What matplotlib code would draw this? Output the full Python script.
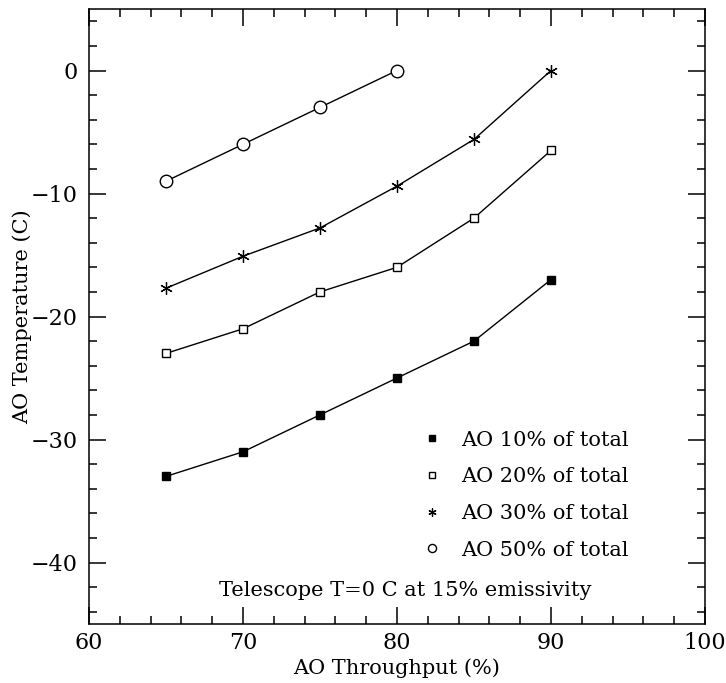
import matplotlib
matplotlib.use("Agg")
import matplotlib.pyplot as plt
from matplotlib.ticker import MultipleLocator

# Daten
throughput = [65, 70, 75, 80, 85, 90]
temp_10 = [-33, -31, -28, -25, -22, -17]
temp_20 = [-23, -21, -18, -16, -12, -6.5]
temp_30 = [-17.7, -15.1, -12.8, -9.4, -5.6, 0]
throughput_50 = [65, 70, 75, 80]
temp_50 = [-9, -6, -3, 0]

plt.rcParams['font.family'] = ['DejaVu Serif']

fig = plt.figure(figsize=(7.26, 6.83), dpi=100)
ax = fig.add_axes([89/726, 1 - 624/683, (705-89)/726, (624-9)/683])

ax.plot(throughput, temp_10, color='black', lw=1, marker='s', ms=6,
        mfc='black', mec='black', label='AO 10% of total')
ax.plot(throughput, temp_20, color='black', lw=1, marker='s', ms=6,
        mfc='white', mec='black', label='AO 20% of total')
ax.plot(throughput, temp_30, color='black', lw=1, marker=(6, 2, 0), ms=9,
        mec='black', mew=0.9, label='AO 30% of total')
ax.plot(throughput_50, temp_50, color='black', lw=1, marker='o', ms=9,
        mfc='white', mec='black', label='AO 50% of total')

ax.set_xlim(60, 100)
ax.set_ylim(-45, 5)
ax.xaxis.set_major_locator(MultipleLocator(10))
ax.xaxis.set_minor_locator(MultipleLocator(2))
ax.yaxis.set_major_locator(MultipleLocator(10))
ax.yaxis.set_minor_locator(MultipleLocator(2))
ax.tick_params(which='both', direction='in', top=True, right=True,
               labelsize=16, width=1.1)
ax.tick_params(axis='x', pad=6)
ax.tick_params(axis='y', pad=8)
ax.tick_params(which='major', length=12)
ax.tick_params(which='minor', length=6)
for s in ax.spines.values():
    s.set_linewidth(1.1)

ax.set_xlabel('AO Throughput (%)', fontsize=15, labelpad=3)
ax.set_ylabel('AO Temperature (C)', fontsize=15, labelpad=-1)

# Legende ohne Linien
handles, labels = ax.get_legend_handles_labels()
leg_handles = []
for h in handles:
    lh = matplotlib.lines.Line2D([], [], ls='none', marker=h.get_marker(),
                                 ms=h.get_markersize() * 0.65,
                                 mfc=h.get_markerfacecolor(), mec='black',
                                 mew=h.get_markeredgewidth())
    leg_handles.append(lh)
ax.legend(leg_handles, labels, loc='lower right', bbox_to_anchor=(0.907, 0.074),
          frameon=False, fontsize=15, handletextpad=0.9, labelspacing=0.85,
          handlelength=1.0)

ax.text(0.513, 0.054, 'Telescope T=0 C at 15% emissivity', transform=ax.transAxes,
        ha='center', va='center', fontsize=15)

fig.savefig('out.png', dpi=100)
